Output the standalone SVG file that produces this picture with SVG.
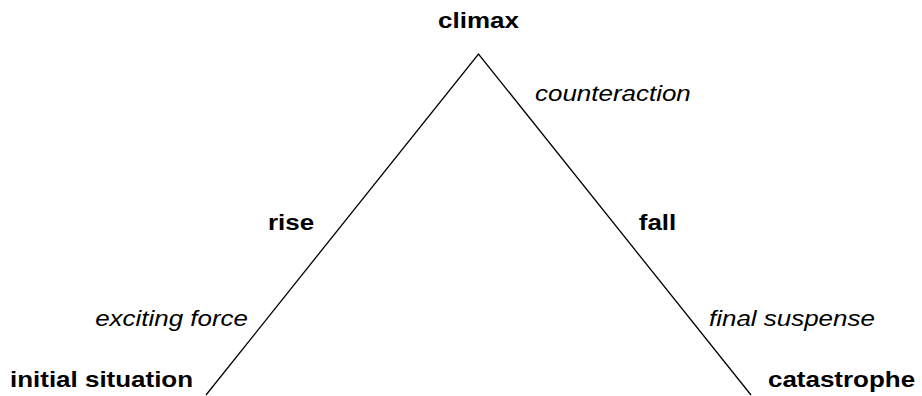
<svg xmlns="http://www.w3.org/2000/svg" width="922" height="396" viewBox="0 0 922 396">
<style>
text{font-family:"Liberation Sans",Arial,sans-serif;font-size:22px;fill:#000}
.b{font-weight:bold}
.i{font-style:italic}
.c{stroke:#000;stroke-width:1.3;fill:none}
</style>
<rect width="922" height="396" fill="#fff"/>
<g id="connectors">
<polyline class="c" points="206,395 478.5,54 751,395"/>
</g>
<g id="climax"><text class="b" text-anchor="middle" transform="translate(478.5,28) scale(1.18,1)">climax</text></g>
<g id="counteraction"><text class="i" transform="translate(535,101) scale(1.18,1)">counteraction</text></g>
<g id="rise"><text class="b" text-anchor="middle" transform="translate(291,230) scale(1.18,1)">rise</text></g>
<g id="fall"><text class="b" text-anchor="middle" transform="translate(657.5,230) scale(1.18,1)">fall</text></g>
<g id="exciting-force"><text class="i" text-anchor="end" transform="translate(248,326) scale(1.18,1)">exciting force</text></g>
<g id="initial-situation"><text class="b" transform="translate(10,387) scale(1.18,1)">initial situation</text></g>
<g id="final-suspense"><text class="i" transform="translate(709,326) scale(1.18,1)">final suspense</text></g>
<g id="catastrophe"><text class="b" transform="translate(768,387) scale(1.18,1)">catastrophe</text></g>
</svg>
